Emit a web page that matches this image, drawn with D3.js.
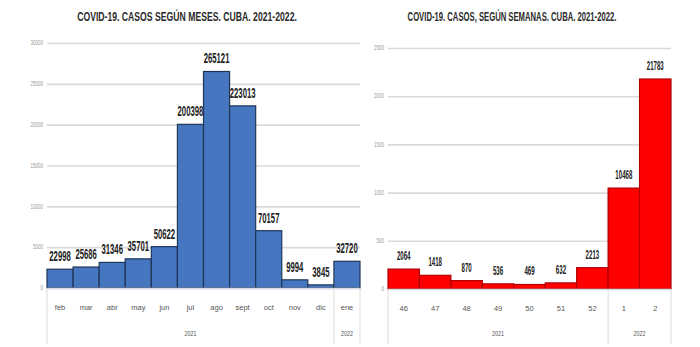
<!DOCTYPE html>
<html><head><meta charset="utf-8">
<script src="https://cdn.jsdelivr.net/npm/d3@7"></script>
<style>
html,body{margin:0;padding:0;background:#fff;}
svg{display:block;font-family:"Liberation Sans",Arial,sans-serif;}
</style></head>
<body>
<svg id="c" width="700" height="347"></svg>
<script>
// ---- data ----
const monthCategories = ["feb","mar","abr","may","jun","jul","ago","sept","oct","nov","dic","ene"];
const monthYears = ["2021","2021","2021","2021","2021","2021","2021","2021","2021","2021","2021","2022"];
const monthCases = [22998, 25686, 31346, 35701, 50622, 200398, 265121, 223013, 70157, 9994, 3845, 32720];
const monthTickValues = [0, 50000, 100000, 150000, 200000, 250000, 300000];
const monthTickLabels = ["0","5000","10000","15000","20000","25000","30000"];

const weekCategories = ["46","47","48","49","50","51","52","1","2"];
const weekYears = ["2021","2021","2021","2021","2021","2021","2021","2022","2022"];
const weekCases = [2064, 1418, 870, 536, 469, 632, 2213, 10468, 21783];
const weekTickValues = [0, 5000, 10000, 15000, 20000, 25000];
const weekTickLabels = ["0","500","1000","1500","2000","2500"];

const titles = ["COVID-19. CASOS SEGÚN MESES. CUBA. 2021-2022.",
                "COVID-19. CASOS, SEGÚN SEMANAS. CUBA. 2021-2022."];

const svg = d3.select("#c");

// place text at (x,y) anchored, squeezed horizontally to a target width via transform
function squeeze(sel, getX, getY, getW, anchor){
  sel.each(function(d,i){
    const t = d3.select(this);
    t.attr("x",0).attr("y",0).attr("text-anchor", anchor);
    const nat = this.getComputedTextLength();
    const w = getW(d,i,this);
    const s = nat > 0 ? Math.min(1, w/nat) : 1;
    t.attr("transform", `translate(${getX(d,i)},${getY(d,i)}) scale(${s},1)`);
  });
}

function panel(cfg){
  const g = svg.append("g");
  const x = d3.scaleBand().domain(cfg.cats).range([cfg.x0, cfg.x1]).padding(0);
  const y = d3.scaleLinear().domain([0, cfg.yMax]).range([cfg.yBase, cfg.yTop]);

  // title
  const title = g.append("text").datum(cfg.title)
    .attr("font-weight","bold").attr("font-size", 13).attr("fill","#2a2a2a")
    .text(d=>d);
  squeeze(title, ()=>cfg.tx, ()=>21, ()=>cfg.tw, "middle");

  // gridlines
  const ya = g.append("g").attr("transform", `translate(${cfg.x0},0)`)
    .call(d3.axisLeft(y).tickValues(cfg.tickVals)
      .tickFormat((d,i)=>cfg.tickLabels[i])
      .tickSize(-(cfg.x1-cfg.x0)).tickPadding(4));
  ya.select(".domain").remove();
  ya.selectAll(".tick line").attr("stroke","#dadada").attr("stroke-width",1.6);
  ya.selectAll(".tick text").attr("fill","#999").attr("font-size",6.5).attr("dy",null)
    .attr("dominant-baseline","middle");
  squeeze(ya.selectAll(".tick text"), ()=>-4, ()=>0,
    (d,i,el)=>el.textContent.length*2.5, "end");

  // bars
  g.selectAll("rect.bar").data(cfg.vals).join("rect").attr("class","bar")
    .attr("x",(d,i)=>x(cfg.cats[i]))
    .attr("width", x.bandwidth())
    .attr("y", d=>y(d))
    .attr("height", d=>cfg.yBase - y(d))
    .attr("fill", cfg.fill).attr("stroke", cfg.stroke).attr("stroke-width", 1.2);

  // data labels
  const lbl = g.selectAll("text.lbl").data(cfg.vals).join("text").attr("class","lbl")
    .attr("font-weight","bold").attr("font-size", cfg.lfs).attr("fill","#222")
    .text(d=>d);
  squeeze(lbl, (d,i)=>x(cfg.cats[i]) + x.bandwidth()/2, d=>y(d) - cfg.gap,
    d=>String(d).length*cfg.dw, "middle");

  // baseline
  g.append("line").attr("x1",cfg.x0).attr("x2",cfg.x1).attr("y1",cfg.yBase+0.5).attr("y2",cfg.yBase+0.5)
    .attr("stroke","#d6dde8").attr("stroke-width",1.5);

  // category labels
  const xa = g.append("g").attr("transform",`translate(0,${cfg.yBase})`)
    .call(d3.axisBottom(x).tickSize(0).tickPadding(17));
  xa.select(".domain").remove();
  xa.selectAll(".tick text").attr("fill","#555").attr("font-size",7.5);

  // year groups
  const groups = [];
  cfg.years.forEach((yr,i)=>{
    if(!groups.length || groups[groups.length-1].yr!==yr) groups.push({yr, s:i, e:i});
    else groups[groups.length-1].e = i;
  });
  const bounds = [cfg.x0].concat(groups.map(gr=>x(cfg.cats[gr.e]) + x.bandwidth()));
  g.selectAll("line.sep").data(bounds).join("line").attr("class","sep")
    .attr("x1",d=>d).attr("x2",d=>d).attr("y1",cfg.yBase).attr("y2",344)
    .attr("stroke","#dcdcdc").attr("stroke-width",1);
  const yr = g.selectAll("text.yr").data(groups).join("text").attr("class","yr")
    .attr("fill","#555").attr("font-size",7.5).text(gr=>gr.yr);
  squeeze(yr, gr=>(x(cfg.cats[gr.s]) + x(cfg.cats[gr.e]) + x.bandwidth())/2, ()=>336, ()=>12, "middle");
}

panel({cats:monthCategories, years:monthYears, vals:monthCases, tickVals:monthTickValues, tickLabels:monthTickLabels,
  x0:47, x1:360, yBase:288, yTop:43, yMax:300000, title:titles[0], tx:187, tw:220,
  fill:"#4676bf", stroke:"#1f3558", gap:8, lfs:14, dw:4.3});

panel({cats:weekCategories, years:weekYears, vals:weekCases, tickVals:weekTickValues, tickLabels:weekTickLabels,
  x0:388, x1:671, yBase:289, yTop:48, yMax:25000, title:titles[1], tx:512, tw:209,
  fill:"#ff0000", stroke:"#b00000", gap:9, lfs:12, dw:3.4});
</script>
</body></html>
